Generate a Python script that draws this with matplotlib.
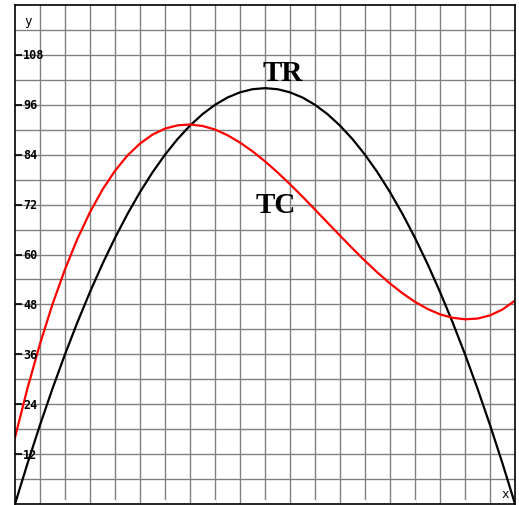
import matplotlib
matplotlib.use('Agg')
import matplotlib.pyplot as plt
import numpy as np

# quantity (x) sampled every 0.25
x_vals = [0, 0.25, 0.5, 0.75, 1, 1.25, 1.5, 1.75, 2, 2.25, 2.5, 2.75, 3, 3.25, 3.5, 3.75,
          4, 4.25, 4.5, 4.75, 5, 5.25, 5.5, 5.75, 6, 6.25, 6.5, 6.75, 7, 7.25, 7.5, 7.75,
          8, 8.25, 8.5, 8.75, 9, 9.25, 9.5, 9.75, 10]
# total revenue
tr_vals = [0, 9.75, 19, 27.75, 36, 43.75, 51, 57.75, 64, 69.75, 75, 79.75, 84, 87.75, 91, 93.75,
           96, 97.75, 99, 99.75, 100, 99.75, 99, 97.75, 96, 93.75, 91, 87.75, 84, 79.75, 75, 69.75,
           64, 57.75, 51, 43.75, 36, 27.75, 19, 9.75, 0]
# total cost
tc_vals = [16, 27.86, 38.52, 48.03, 56.44, 63.81, 70.18, 75.61, 80.13, 83.81, 86.69, 88.83,
           90.27, 91.06, 91.26, 90.91, 90.06, 88.69, 86.91, 84.82, 82.40, 79.75, 76.90, 73.91,
           70.80, 67.67, 64.54, 61.46, 58.47, 55.65, 53.03, 50.68, 48.61, 46.91, 45.61, 44.78,
           44.42, 44.59, 45.36, 46.78, 48.9]
y_ticks = [12, 24, 36, 48, 60, 72, 84, 96, 108]

W, H = 519, 506
fig = plt.figure(figsize=(W / 100, H / 100), dpi=100)
ax = fig.add_axes([15 / W, 1 / H, 500 / W, 499 / H])
ax.set_xlim(0, 10)
ax.set_ylim(0, 120)

# grid
for gx in np.arange(0.5, 10, 0.5):
    ax.axvline(gx, color='#808080', lw=1, zorder=1)
for gy in np.arange(6, 120, 6):
    ax.axhline(gy, color='#808080', lw=1, zorder=1)

ax.plot(x_vals, tr_vals, color='black', lw=1.6, zorder=3)
ax.plot(x_vals, tc_vals, color='red', lw=1.6, zorder=3)

ax.set_yticks(y_ticks)
ax.set_yticklabels([])
ax.tick_params(axis='y', direction='in', length=5, width=1.2, color='black')
ax.set_xticks(range(1, 10))
ax.set_xticklabels([])
ax.tick_params(axis='x', direction='in', length=3, width=1.5, color='white')
for s in ax.spines.values():
    s.set_color('black')
    s.set_linewidth(1.2)
    s.set_zorder(4)

for t in y_ticks:
    ax.text(0.16, t, str(t), ha='left', va='center', fontsize=8.5, fontweight='bold',
            family='DejaVu Sans Mono', zorder=5)

ax.text(0.026, 0.968, 'y', transform=ax.transAxes, fontsize=9, family='DejaVu Sans Mono',
        ha='center', va='center')
ax.text(0.98, 0.022, 'x', transform=ax.transAxes, fontsize=9, family='DejaVu Sans Mono',
        ha='center', va='center')
ax.text(5.36, 103.7, 'TR', ha='center', va='center', fontsize=21, fontweight='bold',
        family='Liberation Serif', zorder=5)
ax.text(5.21, 72, 'TC', ha='center', va='center', fontsize=21, fontweight='bold',
        family='Liberation Serif', zorder=5)

fig.savefig('out.png', dpi=100)
